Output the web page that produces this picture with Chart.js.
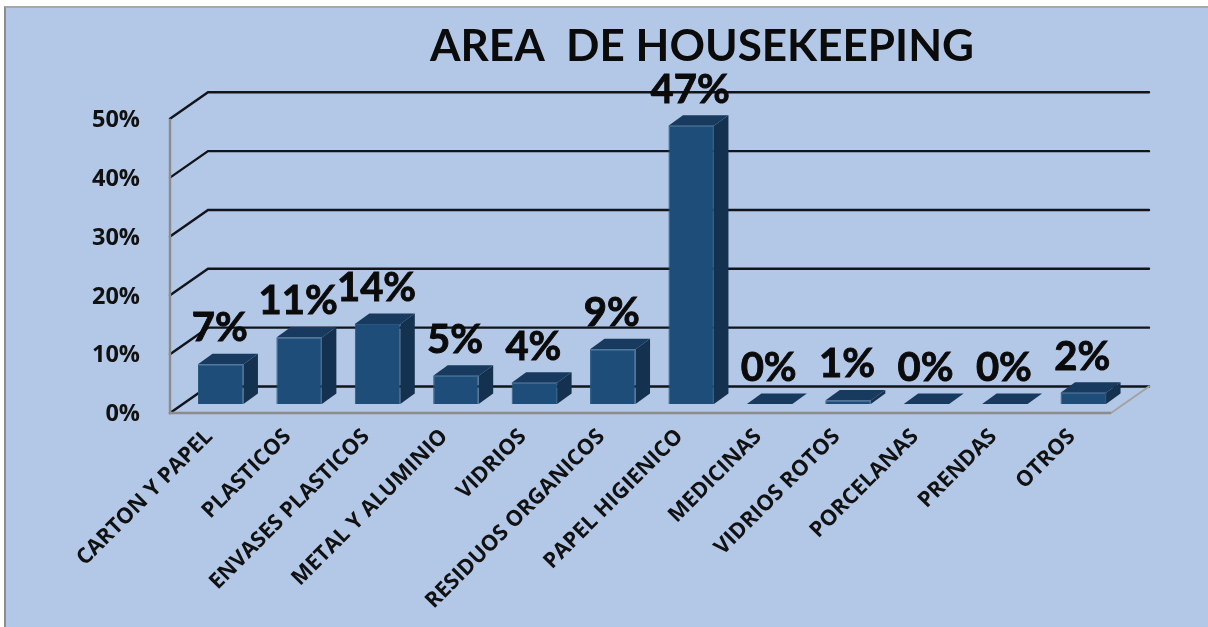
<!DOCTYPE html>
<html><head><meta charset="utf-8">
<script src="https://cdn.jsdelivr.net/npm/chart.js@4"></script>
<style>
html,body{margin:0;padding:0;background:#fff;width:1208px;height:627px;overflow:hidden}
#panel{position:absolute;left:4px;top:6px;right:0;bottom:0;background:#b3c7e6;border-top:2px solid #a8a8a8;border-left:2px solid #8c8c8c}
#c{position:absolute;left:0;top:0}
</style></head><body>
<div id="panel"></div>
<canvas id="c" width="1208" height="627"></canvas>
<script>
const titleText = 'AREA  DE HOUSEKEEPING';
const categories = ['CARTON Y PAPEL','PLASTICOS','ENVASES PLASTICOS','METAL Y ALUMINIO','VIDRIOS','RESIDUOS ORGANICOS','PAPEL HIGIENICO','MEDICINAS','VIDRIOS ROTOS','PORCELANAS','PRENDAS','OTROS'];
const values = [6.75,11.3,13.6,4.8,3.6,9.3,47.3,0,0.6,0,0,1.9];
const tickValues = [0,10,20,30,40,50];

const DEPTH = {x:38, y:-26.5};      // wall depth of the 3D box
const BAR_DEPTH = {x:14.5, y:-10.5};
const BAR_SHIFT = {x:11.5, y:-9};   // bars stand in the middle of the floor

const threeD = {
  id:'threeD',
  afterLayout(chart){
    const t = chart.titleBlock;
    if(t){ t.left = 0; t.right = 1404; }
  },
  beforeDatasetsDraw(chart){
    const {ctx, chartArea:a, scales:{y}} = chart;
    ctx.save();
    ctx.lineCap='round';
    tickValues.forEach(v=>{
      const py = y.getPixelForValue(v);
      ctx.strokeStyle='#11141b';
      ctx.beginPath(); ctx.moveTo(a.left,py); ctx.lineTo(a.left+DEPTH.x,py+DEPTH.y);
      ctx.lineTo(a.right+DEPTH.x,py+DEPTH.y);
      ctx.lineWidth=2.4; ctx.stroke();
    });
    // floor edge on the right
    const b = y.getPixelForValue(0);
    ctx.strokeStyle='#a3a3a0'; ctx.lineWidth=2;
    ctx.beginPath(); ctx.moveTo(a.right,b); ctx.lineTo(a.right+DEPTH.x,b+DEPTH.y); ctx.stroke();
    // side and top faces of the bars
    chart.getDatasetMeta(0).data.forEach(bar=>{
      const l = bar.x-bar.width/2+BAR_SHIFT.x, r = bar.x+bar.width/2+BAR_SHIFT.x;
      const t = bar.y+BAR_SHIFT.y, base = bar.base+BAR_SHIFT.y;
      const dx = BAR_DEPTH.x, dy = BAR_DEPTH.y;
      ctx.fillStyle='#14324f';
      ctx.beginPath(); ctx.moveTo(r,t); ctx.lineTo(r+dx,t+dy); ctx.lineTo(r+dx,base+dy); ctx.lineTo(r,base); ctx.closePath(); ctx.fill();
      ctx.fillStyle='#173a5e';
      ctx.beginPath(); ctx.moveTo(l,t); ctx.lineTo(l+dx,t+dy); ctx.lineTo(r+dx,t+dy); ctx.lineTo(r,t); ctx.closePath(); ctx.fill();
    });
    // the floor's front edge and the wall edge stay grey, above the wall lines
    ctx.strokeStyle='#8c8c8c'; ctx.lineWidth=2.4; ctx.lineCap='butt';
    ctx.beginPath(); ctx.moveTo(a.left,y.getPixelForValue(50)); ctx.lineTo(a.left,b); ctx.lineTo(a.right,b); ctx.stroke();
    ctx.restore();
  },
  beforeDatasetDraw(chart){
    chart.ctx.save();
    chart.ctx.translate(BAR_SHIFT.x,BAR_SHIFT.y);
  },
  afterDatasetDraw(chart){
    chart.ctx.restore();
  },
  afterDatasetsDraw(chart){
    const {ctx} = chart;
    ctx.save();
    ctx.fillStyle='#0b0b0b';
    ctx.strokeStyle='#0b0b0b';
    ctx.lineWidth=0.9;
    ctx.font='bold 40px Lato';
    ctx.textAlign='center'; ctx.textBaseline='middle';
    chart.getDatasetMeta(0).data.forEach((bar,i)=>{
      const s = Math.round(values[i])+'%', px = bar.x+BAR_SHIFT.x-1, py = bar.y+BAR_SHIFT.y-36;
      ctx.fillText(s,px,py);
      ctx.strokeText(s,px,py);
    });
    ctx.restore();
  }
};

new Chart(document.getElementById('c'),{
  type:'bar',
  data:{labels:categories,datasets:[{data:values,backgroundColor:'#1d4d78',borderColor:'#25577f',borderWidth:1,barPercentage:0.58,categoryPercentage:1,clip:false}]},
  plugins:[threeD],
  options:{
    responsive:false,animation:false,
    layout:{padding:{left:0,right:97,top:0,bottom:0}},
    plugins:{
      legend:{display:false},tooltip:{enabled:false},
      title:{display:true,text:titleText,color:'#0b0b0b',font:{family:'Lato',size:44,weight:'bold'},padding:{top:20,bottom:46}}
    },
    scales:{
      x:{
        grid:{display:false},
        border:{display:false},
        ticks:{color:'#111',font:{family:'Open Sans',size:21.7,weight:'700'},minRotation:45,maxRotation:45,autoSkip:false,padding:3},
        afterFit(s){s.height=214;}
      },
      y:{
        min:0,max:50,
        grid:{display:false},
        border:{display:false},
        ticks:{color:'#111',font:{family:'Open Sans',size:23.5,weight:'700'},stepSize:10,padding:22,labelOffset:1.5,callback:v=>v+'%'},
        afterFit(s){s.width=170;}
      }
    }
  }
});
</script></body></html>
